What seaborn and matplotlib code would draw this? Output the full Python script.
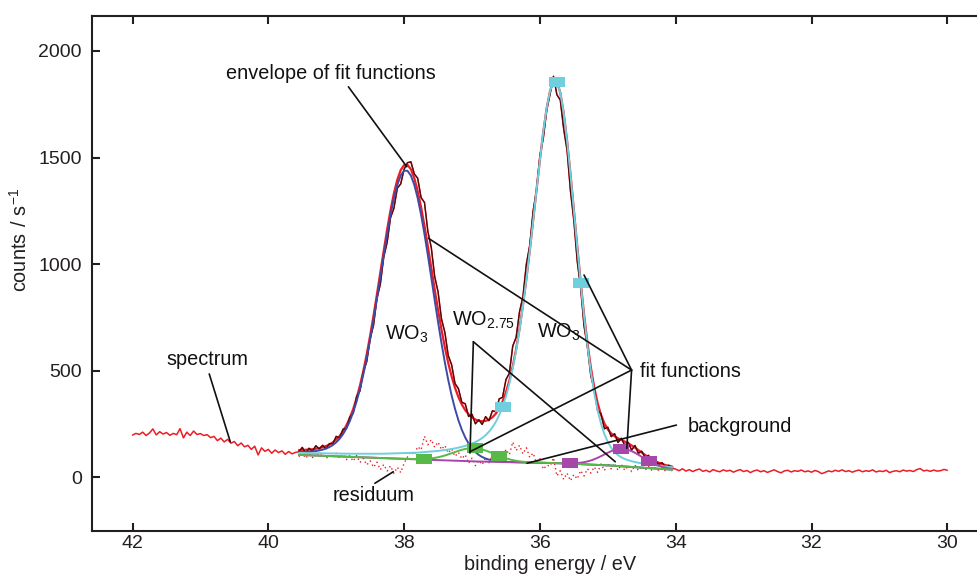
import numpy as np
import matplotlib
matplotlib.use("Agg")
import matplotlib.pyplot as plt
from matplotlib.path import Path
import seaborn as sns

# ---------------- data ----------------
# measured spectrum, high binding energy side (no fit)
energy_left = np.round(np.linspace(42.00, 39.60, 49), 2)
spectrum_left = [198, 206, 201, 212, 196, 208, 227, 199, 214, 203,
                 210, 197, 206, 200, 228, 185, 212, 196, 217, 201,
                 205, 196, 200, 186, 192, 172, 184, 166, 178, 160,
                 168, 148, 161, 143, 150, 131, 146, 105, 138, 122,
                 131, 113, 128, 116, 124, 108, 121, 110, 117]

# fit region (39.55 ... 34.05 eV)
energy_fit = np.round(np.linspace(39.55, 34.05, 111), 2)
spectrum_fit = [119.5, 140.3, 114.1, 136.3, 121.9, 148.1, 133.1, 150.1, 134.6, 158.0,
                157.9, 191.9, 184.8, 225.8, 229.4, 282.9, 300.1, 378.8, 405.6, 494.8,
                543.2, 650.1, 714.2, 838.7, 906.1, 1033.3, 1101.9, 1217.9, 1262.4, 1356.3,
                1376.5, 1445.0, 1476.0, 1480.0, 1423.3, 1403.1, 1312.3, 1289.3, 1153.3, 1078.2,
                942.6, 870.2, 743.7, 680.2, 571.4, 527.7, 439.4, 416.1, 351.7, 345.1,
                285.3, 295.8, 251.0, 270.0, 248.0, 284.7, 265.7, 311.6, 308.3, 367.6,
                375.5, 458.5, 488.3, 615.8, 657.0, 777.3, 846.8, 999.2, 1087.7, 1249.0,
                1348.4, 1509.8, 1591.0, 1721.9, 1798.2, 1881.2, 1795.1, 1770.0, 1634.8, 1534.1,
                1343.7, 1205.0, 1013.3, 887.8, 710.1, 610.1, 475.4, 411.7, 313.1, 297.8,
                227.7, 234.9, 190.9, 204.7, 163.1, 183.3, 149.5, 164.2, 127.6, 149.2,
                112.8, 122.2, 92.9, 103.1, 74.4, 79.8, 60.5, 68.6, 48.5, 56.5,
                44.1]
envelope = [127.5, 128.3, 129.1, 130.3, 131.9, 134.1, 137.1, 141.1, 146.6, 154.0,
            163.9, 176.9, 193.8, 215.8, 243.4, 277.9, 320.1, 370.8, 430.6, 499.8,
            578.2, 665.1, 759.2, 858.7, 961.1, 1063.3, 1161.9, 1252.9, 1332.4, 1396.3,
            1441.5, 1465.0, 1466.0, 1445.0, 1403.3, 1343.1, 1267.3, 1179.3, 1083.3, 983.2,
            882.6, 785.2, 693.7, 610.2, 536.4, 472.7, 419.4, 376.1, 341.7, 315.1,
            295.3, 280.8, 271.0, 265.0, 263.0, 264.7, 270.7, 281.6, 298.3, 322.6,
            355.5, 398.5, 453.3, 520.8, 602.0, 697.3, 806.8, 929.2, 1062.7, 1204.0,
            1348.4, 1489.8, 1621.0, 1731.9, 1813.2, 1856.2, 1855.1, 1805.0, 1709.8, 1579.1,
            1423.7, 1255.0, 1083.3, 917.8, 765.1, 630.1, 515.4, 421.7, 348.1, 292.8,
            252.7, 224.9, 205.9, 192.7, 183.1, 175.3, 167.5, 159.2, 149.6, 139.2,
            127.8, 116.2, 104.9, 94.1, 84.4, 75.8, 68.5, 62.6, 57.5, 53.5,
            50.1]
residuum = [97.0, 116.4, 88.8, 109.2, 92.6, 116.0, 97.4, 109.8, 88.2, 103.6,
            93.0, 113.4, 88.8, 107.2, 82.6, 101.0, 75.4, 102.8, 69.2, 88.6,
            58.0, 77.4, 46.8, 71.2, 35.6, 60.0, 29.4, 53.8, 18.2, 47.6,
            22.0, 66.4, 95.8, 120.2, 104.6, 144.0, 128.4, 192.9, 152.3, 176.8,
            141.2, 165.7, 130.1, 149.6, 114.0, 133.4, 97.9, 117.3, 86.8, 106.2,
            65.7, 90.1, 54.6, 79.0, 58.7, 93.3, 68.0, 102.7, 82.3, 117.0,
            91.7, 131.3, 106.0, 165.7, 125.3, 150.0, 109.7, 139.3, 94.0, 113.7,
            68.3, 88.0, 37.7, 57.3, 52.0, 91.7, 6.3, 31.0, -9.7, 19.6,
            -16.1, 13.1, -7.6, 31.7, 6.0, 40.3, 19.6, 48.9, 23.1, 62.4,
            31.7, 66.0, 40.0, 65.9, 32.8, 59.8, 32.7, 54.7, 26.6, 57.6,
            31.5, 51.5, 32.4, 52.4, 32.3, 45.3, 32.2, 45.2, 29.1, 40.1,
            30.0]

# measured spectrum, low binding energy side (no fit)
energy_right = np.round(np.linspace(34.00, 30.00, 81), 2)
spectrum_right = [38, 31, 40, 29, 36, 27, 34, 39, 28, 33,
                  25, 36, 30, 26, 35, 29, 33, 24, 31, 36,
                  27, 32, 22, 30, 34, 26, 31, 23, 29, 35,
                  27, 21, 30, 33, 25, 31, 28, 34, 26, 30,
                  24, 32, 27, 17, 23, 30, 26, 33, 28, 35,
                  27, 31, 24, 30, 34, 26, 31, 28, 35, 25,
                  30, 27, 33, 22, 28, 31, 26, 34, 29, 32,
                  27, 36, 41, 30, 33, 28, 34, 29, 31, 37,
                  33]

# fit functions (each drawn on top of the background)
wo3_a_energy = np.concatenate([np.round(np.linspace(39.55, 36.45, 63), 2), [35.70, 35.00, 34.05]])
wo3_a_counts = [118.1, 118.6, 119.2, 120.1, 121.4, 123.3, 126.0, 129.7, 134.9, 141.9,
                151.4, 164.1, 180.6, 202.1, 229.3, 263.3, 305.0, 355.2, 414.5, 483.1,
                560.9, 647.2, 740.7, 839.5, 941.1, 1042.6, 1140.3, 1230.5, 1309.0, 1372.0,
                1416.1, 1438.5,
                1438.0, 1415.5, 1372.1, 1309.9, 1231.7, 1141.0, 1041.6, 937.3, 831.8, 728.6,
                630.3, 539.2, 456.7, 383.8, 320.8, 267.4, 223.1, 187.0, 158.3, 135.6,
                118.2, 104.9, 95.3, 88.1, 83.0, 79.4, 76.6, 74.8, 73.5, 72.4,
                71.7,
                66.0, 56.0, 36.0]

wo3_b_energy = np.concatenate([[39.55, 38.80, 38.30, 37.80], np.round(np.linspace(37.50, 34.05, 70), 2)])
wo3_b_counts = [114.4, 110.6, 110.7, 115.8,
                123.9, 125.8, 127.9, 130.3, 132.8, 135.8, 139.2, 143.1, 147.5, 152.6,
                158.5, 165.6, 174.0, 184.6, 197.6, 213.9, 234.2, 259.5, 291.4, 331.0,
                379.7, 439.2, 510.5, 594.7, 692.4, 803.5, 927.0, 1061.3, 1203.1, 1347.9,
                1489.8, 1621.0, 1731.9, 1813.2, 1856.2,
                1854.9, 1804.7, 1709.2, 1578.0, 1421.9, 1252.1, 1078.8, 911.0, 755.1, 616.0,
                496.0, 395.8, 314.7, 251.0, 202.1, 165.5, 138.4, 118.5, 104.0, 93.6,
                85.8, 80.1, 75.4, 71.7, 68.4, 65.6, 63.1, 60.7, 58.5, 56.4,
                54.4, 52.6, 50.7, 49.0, 47.2]

wo275_a_energy = np.concatenate([[39.55, 38.80, 38.20], np.round(np.linspace(37.80, 36.15, 34), 2),
                                 [35.70, 35.00, 34.05]])
wo275_a_counts = [105.0, 96.0, 88.8,
                  85.4, 85.6, 86.2, 87.2, 88.9, 91.1, 94.1, 97.8, 102.3, 107.4,
                  112.9, 118.6, 124.1, 129.1, 133.0, 135.8, 136.9,
                  136.4, 134.1, 130.5, 125.6, 119.8, 113.4, 106.8, 100.4, 94.4, 89.0,
                  84.4, 80.6, 77.4, 74.9, 73.0, 71.5, 70.4,
                  66.0, 56.0, 36.0]

wo275_b_energy = np.concatenate([[39.55, 37.80, 36.90, 35.70], np.round(np.linspace(35.55, 34.05, 31), 2)])
wo275_b_counts = [105.0, 84.0, 74.0, 66.0,
                  65.7, 66.0, 66.9, 68.5, 71.0, 74.4, 79.0, 84.8, 91.5, 99.2,
                  107.3, 115.4, 122.5, 128.1, 131.9, 133.5,
                  132.4, 128.8, 122.8, 115.1, 105.9, 96.1, 86.2, 76.8, 68.2, 60.7,
                  54.3, 49.2, 44.9, 41.6, 38.9]

# energies at which the curve symbols sit
wo3_b_marks = [36.55, 35.75, 35.40]
wo275_a_marks = [37.70, 36.95, 36.60]
wo275_b_marks = [35.55, 34.80, 34.40]

# ---------------- styling ----------------
RED = "#ec1c24"
DARK = "#4a0b0b"
BLUE = "#3d4ba6"
CYAN = "#6fcfdc"
GREEN = "#57b947"
MAGENTA = "#a747a9"
INK = "#231f20"

sns.set_theme(style="ticks")
plt.rcParams["font.family"] = ["Liberation Sans", "DejaVu Sans"]
plt.rcParams["axes.unicode_minus"] = True

fig = plt.figure(figsize=(9.78, 5.74), dpi=100)
ax = fig.add_axes([91.7 / 978, 43.3 / 574, 1 - 91.7 / 978, 515 / 574])

spec_energy = np.concatenate([energy_left, energy_fit, energy_right])
spec_counts = np.concatenate([spectrum_left, spectrum_fit, spectrum_right])

sns.lineplot(x=spec_energy, y=spec_counts, ax=ax, color=RED, linewidth=1.1,
             estimator=None, sort=False, zorder=2)
sns.lineplot(x=energy_fit, y=residuum, ax=ax, color=RED, linewidth=1.0,
             linestyle=(0, (1, 2.2)), estimator=None, sort=False, zorder=2)
sns.lineplot(x=energy_fit, y=envelope, ax=ax, color=RED, linewidth=1.6,
             estimator=None, sort=False, zorder=3)
sns.lineplot(x=energy_fit, y=spectrum_fit, ax=ax, color=DARK, linewidth=0.9,
             estimator=None, sort=False, zorder=4)

sns.lineplot(x=wo3_a_energy, y=wo3_a_counts, ax=ax, color=BLUE, linewidth=1.4,
             estimator=None, sort=False, zorder=5)
sns.lineplot(x=wo3_b_energy, y=wo3_b_counts, ax=ax, color=CYAN, linewidth=1.4,
             estimator=None, sort=False, zorder=5)
sns.lineplot(x=wo275_b_energy, y=wo275_b_counts, ax=ax, color=MAGENTA, linewidth=1.4,
             estimator=None, sort=False, zorder=5)
sns.lineplot(x=wo275_a_energy, y=wo275_a_counts, ax=ax, color=GREEN, linewidth=1.4,
             estimator=None, sort=False, zorder=5)

rect = Path([(-1, -0.6), (1, -0.6), (1, 0.6), (-1, 0.6), (-1, -0.6)],
            [Path.MOVETO, Path.LINETO, Path.LINETO, Path.LINETO, Path.CLOSEPOLY])
for xs, ys, marks, col in [(wo3_b_energy, wo3_b_counts, wo3_b_marks, CYAN),
                           (wo275_a_energy, wo275_a_counts, wo275_a_marks, GREEN),
                           (wo275_b_energy, wo275_b_counts, wo275_b_marks, MAGENTA)]:
    xs = np.asarray(xs)
    ys = np.asarray(ys)
    sel = np.isin(np.round(xs, 2), np.round(marks, 2))
    sns.scatterplot(x=xs[sel], y=ys[sel], ax=ax, marker=rect, s=117, color=col,
                    linewidth=0, zorder=6, legend=False)

# ---------------- annotations ----------------
def leader(p0, p1):
    ax.annotate("", xy=p1, xytext=p0,
                arrowprops=dict(arrowstyle="-", color="#111111", lw=1.2,
                                shrinkA=0, shrinkB=0),
                annotation_clip=False, zorder=7)

FS = 14.3
ax.text(40.62, 1867, "envelope of fit functions", fontsize=FS, color="#111111",
        ha="left", va="baseline")
leader((38.82, 1832), (37.96, 1457))

ax.text(41.50, 527, "spectrum", fontsize=FS, color="#111111", ha="left", va="baseline")
leader((40.87, 485), (40.56, 167))

ax.text(39.05, -111, "residuum", fontsize=FS, color="#111111", ha="left", va="baseline")
leader((38.43, -28), (38.16, 26))

ax.text(34.53, 469, "fit functions", fontsize=FS, color="#111111", ha="left", va="baseline")
for end in [(37.64, 1121), (35.35, 949), (37.03, 120), (34.72, 136)]:
    leader((34.65, 503), end)

ax.text(33.83, 214, "background", fontsize=FS, color="#111111", ha="left", va="baseline")
leader((33.99, 245), (36.19, 66))

ax.text(38.28, 644, r"$\mathregular{WO_3}$", fontsize=FS, color="#111111",
        ha="left", va="baseline")
ax.text(37.30, 711, r"$\mathregular{WO_{2.75}}$", fontsize=FS, color="#111111",
        ha="left", va="baseline")
ax.text(36.05, 657, r"$\mathregular{WO_3}$", fontsize=FS, color="#111111",
        ha="left", va="baseline")
for end in [(37.03, 114), (34.89, 73)]:
    leader((36.98, 636), end)

# ---------------- axes ----------------
ax.set_xlim(42.601, 29.548)
ax.set_ylim(-250.5, 2165.6)
ax.set_xticks([42, 40, 38, 36, 34, 32, 30])
ax.set_yticks([0, 500, 1000, 1500, 2000])
ax.tick_params(axis="x", direction="in", length=6, width=1.5, top=True, bottom=True,
               pad=3, labelsize=14, colors=INK)
ax.tick_params(axis="y", direction="in", length=6, width=1.5, left=True, right=False,
               pad=7, labelsize=14, colors=INK)
for side in ["left", "bottom", "top"]:
    ax.spines[side].set_linewidth(1.5)
    ax.spines[side].set_color(INK)
ax.spines["right"].set_visible(False)
ax.grid(False)

ax.set_xlabel("binding energy / eV", fontsize=FS, color=INK)
ax.xaxis.set_label_coords(0.517, -0.0665)
ax.xaxis.label.set_va("center")
ax.set_ylabel(r"$\mathregular{counts\ /\ s^{-1}}$", fontsize=FS, color=INK)
ax.yaxis.set_label_coords(-0.081, 0.5645)
ax.yaxis.label.set_va("center")

fig.savefig("out.png", dpi=100)
